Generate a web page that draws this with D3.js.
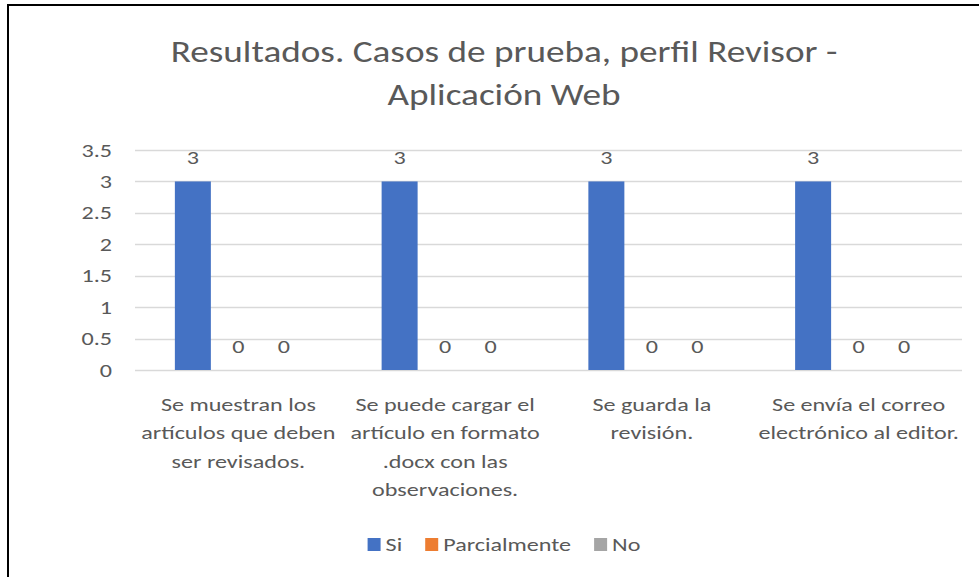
<!DOCTYPE html>
<html>
<head>
<meta charset="utf-8">
<script src="https://cdn.jsdelivr.net/npm/d3@7"></script>
<style>
  html, body { margin: 0; padding: 0; background: #fff; }
  svg { display: block; }
  text { font-family: Calibri, Carlito, Lato, sans-serif; fill: #595959; }
</style>
</head>
<body>
<svg id="chart" width="979" height="577"></svg>
<script>
// Test results per test case, reviewer profile (web application)
const categories = [
  "Se muestran los artículos que deben ser revisados.",
  "Se puede cargar el artículo en formato .docx con las observaciones.",
  "Se guarda la revisión.",
  "Se envía el correo electrónico al editor."
];
const categoryLines = [
  ["Se muestran los", "artículos que deben", "ser revisados."],
  ["Se puede cargar el", "artículo en formato", ".docx con las", "observaciones."],
  ["Se guarda la", "revisión."],
  ["Se envía el correo", "electrónico al editor."]
];
const seriesNames = ["Si", "Parcialmente", "No"];
const siValues = [3, 3, 3, 3];
const parcialValues = [0, 0, 0, 0];
const noValues = [0, 0, 0, 0];
const yTicks = [0, 0.5, 1, 1.5, 2, 2.5, 3, 3.5];
const seriesColors = ["#4472C4", "#ED7D31", "#A5A5A5"];
const titleLines = ["Resultados. Casos de prueba, perfil Revisor -", "Aplicación Web"];

const seriesValues = [siValues, parcialValues, noValues];
const rows = categories.map((c, i) => ({
  category: c,
  values: seriesNames.map((s, k) => ({ series: s, value: seriesValues[k][i] }))
}));

const svg = d3.select("#chart");
const W = 979, H = 577;
const plot = { left: 135, right: 962, top: 150, bottom: 370 };
const centerX = 504;
// the chart's type is set wide; these widen the glyphs horizontally
const titleStretch = 1.2;
const textStretch = 1.27;
const fontSize = "19px";

// outer chart frame (continues past the right and bottom edges)
svg.append("rect")
  .attr("x", 8).attr("y", 5)
  .attr("width", W + 40).attr("height", H + 40)
  .attr("fill", "#fff").attr("stroke", "#000").attr("stroke-width", 2);

// title
svg.append("g").selectAll("text").data(titleLines).join("text")
  .attr("transform", (d, i) => `translate(${centerX},${62 + i * 43}) scale(${titleStretch},1)`)
  .attr("text-anchor", "middle")
  .style("font-size", "31px")
  .text(d => d);

const x0 = d3.scaleBand().domain(categories).range([plot.left, plot.right]).padding(0);
const x1 = d3.scaleBand().domain(seriesNames)
  .range([0, x0.bandwidth()])
  .paddingInner(0.209).paddingOuter(0.876);
const y = d3.scaleLinear().domain([0, 3.5]).range([plot.bottom, plot.top]);
const color = d3.scaleOrdinal().domain(seriesNames).range(seriesColors);

// gridlines
svg.append("g").selectAll("line").data(yTicks).join("line")
  .attr("x1", plot.left).attr("x2", plot.right)
  .attr("y1", d => Math.round(y(d)) + 0.5).attr("y2", d => Math.round(y(d)) + 0.5)
  .attr("stroke", "#D9D9D9").attr("stroke-width", 1.3);

// y axis labels
const yAxis = svg.append("g")
  .attr("transform", `translate(${plot.left - 23},0)`)
  .call(d3.axisLeft(y).tickValues(yTicks).tickSize(0).tickPadding(0).tickFormat(d3.format("")));
yAxis.select(".domain").remove();
yAxis.selectAll("text")
  .attr("x", 0)
  .attr("transform", `scale(${textStretch},1)`)
  .style("font-size", fontSize)
  .attr("fill", "#595959")
  .style("font-family", "Calibri, Carlito, Lato, sans-serif");

// bars
const groups = svg.append("g").selectAll("g").data(rows).join("g")
  .attr("transform", d => `translate(${x0(d.category)},0)`);

groups.selectAll("rect").data(d => d.values).join("rect")
  .attr("x", d => x1(d.series))
  .attr("width", x1.bandwidth())
  .attr("y", d => y(d.value))
  .attr("height", d => y(0) - y(d.value))
  .attr("fill", d => color(d.series));

// value labels
groups.selectAll("text").data(d => d.values).join("text")
  .attr("transform", d =>
    `translate(${x1(d.series) + x1.bandwidth() / 2},${y(d.value) - 17.5}) scale(${textStretch},1)`)
  .attr("text-anchor", "middle")
  .style("font-size", fontSize)
  .text(d => d.value);

// category labels
const catG = svg.append("g").selectAll("text").data(categories).join("text")
  .attr("text-anchor", "middle")
  .style("font-size", fontSize)
  .attr("transform", d => `translate(${x0(d) + x0.bandwidth() / 2},411) scale(${textStretch},1)`);
catG.selectAll("tspan").data((d, i) => categoryLines[i]).join("tspan")
  .attr("x", 0)
  .attr("y", (d, i) => i * 28.3)
  .text(d => d);

// legend
const legend = svg.append("g");
const items = legend.selectAll("g").data(seriesNames).join("g");
items.append("rect")
  .attr("width", 13).attr("height", 13)
  .attr("y", -13)
  .attr("fill", d => color(d));
items.append("text")
  .attr("transform", `translate(18,0) scale(${textStretch},1)`)
  .style("font-size", fontSize)
  .text(d => d);
let offset = 0;
items.each(function () {
  const g = d3.select(this);
  g.attr("transform", `translate(${offset},0)`);
  offset += 18 + g.select("text").node().getComputedTextLength() * textStretch + 23;
});
const legendWidth = offset - 23;
legend.attr("transform", `translate(${centerX - legendWidth / 2},551)`);
</script>
</body>
</html>
